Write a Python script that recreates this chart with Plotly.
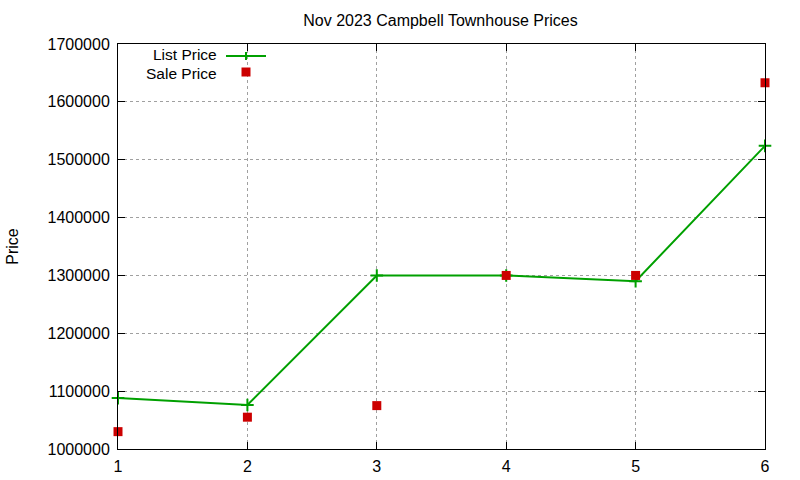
import plotly.graph_objects as go

listings = [1, 2, 3, 4, 5, 6]
list_price = [1088000, 1076000, 1300000, 1300000, 1290000, 1524000]
sale_price = [1030000, 1055000, 1075000, 1300000, 1300000, 1633000]

GREEN = "rgb(0,160,0)"
RED = "rgb(204,0,0)"
FONT = "Liberation Sans, Arial, sans-serif"
GRID = "rgb(160,160,160)"

fig = go.Figure()
fig.add_trace(go.Scatter(
    x=listings, y=list_price, mode="lines+markers", name="List Price",
    line=dict(color=GREEN, width=2),
    marker=dict(symbol="cross-thin", size=9, line=dict(color=GREEN, width=2)),
    cliponaxis=False, showlegend=False))
fig.add_trace(go.Scatter(
    x=listings, y=sale_price, mode="markers", name="Sale Price",
    marker=dict(symbol="square", size=9, color=RED, line=dict(width=0)),
    cliponaxis=False, showlegend=False))

W, L, R = 800, 118, 35
PW = W - L - R

def px(x):
    return (x - L) / PW

H, T, B = 480, 44, 31
PH = H - T - B

def py(y):
    return 1 - (y - T) / PH

# gnuplot-style key: text right-aligned, sample to the right
fig.add_annotation(x=px(218), y=py(55), xref="paper", yref="paper", text="List Price",
                   showarrow=False, xanchor="right", yanchor="middle", borderpad=0,
                   font=dict(family=FONT, size=15.5, color="black"))
fig.add_annotation(x=px(218), y=py(73), xref="paper", yref="paper", text="Sale Price",
                   showarrow=False, xanchor="right", yanchor="middle", borderpad=0,
                   font=dict(family=FONT, size=15.5, color="black"))
fig.add_shape(type="line", xref="paper", yref="paper", x0=px(226), x1=px(266),
              y0=py(56), y1=py(56), line=dict(color=GREEN, width=2))
fig.add_shape(type="line", xref="paper", yref="paper", x0=px(246), x1=px(246),
              y0=py(52), y1=py(60), line=dict(color=GREEN, width=2))
fig.add_shape(type="rect", xref="paper", yref="paper", x0=px(241.5), x1=px(250.5),
              y0=py(67.5), y1=py(76.5), line=dict(width=0), fillcolor=RED)

axis_common = dict(ticks="inside", ticklen=7, tickcolor="black", showline=True,
                   linecolor="black", linewidth=1, mirror="allticks", showgrid=True,
                   gridcolor=GRID, griddash="3px,3px", gridwidth=1, zeroline=False,
                   automargin=False, tickfont=dict(family=FONT, size=16))

fig.update_layout(
    width=W, height=H,
    margin=dict(l=L, r=R, t=T, b=B),
    paper_bgcolor="white", plot_bgcolor="white",
    font=dict(family=FONT, size=16, color="black"),
    title=dict(text="Nov 2023 Campbell Townhouse Prices", x=(303 + 578) / 2 / W,
               xanchor="center", y=1 - 20 / H, yanchor="middle",
               font=dict(family=FONT, size=16, color="black")),
    xaxis=dict(range=[1, 6], tickvals=listings, ticklabelstandoff=3, **axis_common),
    yaxis=dict(range=[1000000, 1700000], dtick=100000, tick0=1000000,
               tickformat="d", ticklabelstandoff=4,
               title=dict(text="Price", standoff=24, font=dict(family=FONT, size=16)),
               **axis_common),
)

fig.write_html("out.html")
